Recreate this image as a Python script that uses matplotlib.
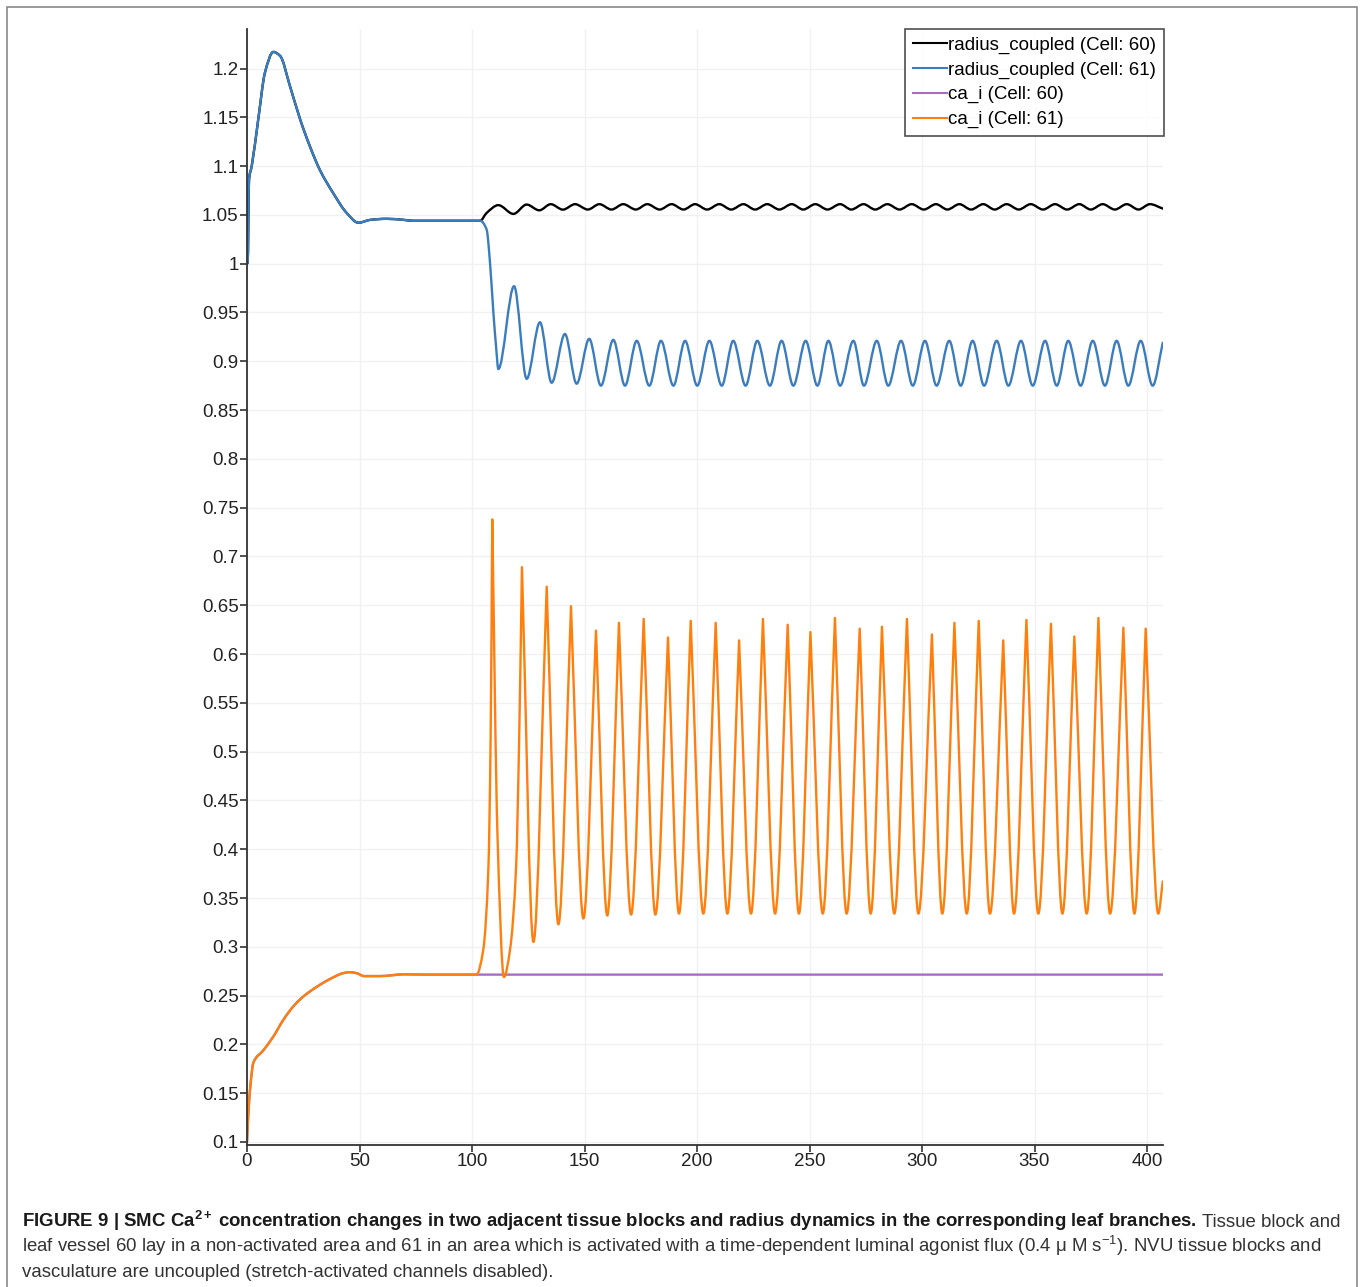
import numpy as np
import matplotlib
matplotlib.use("Agg")
import matplotlib.pyplot as plt
from matplotlib.path import Path
from matplotlib.patches import PathPatch, Rectangle
from matplotlib.lines import Line2D
from matplotlib import font_manager

# ---------------- data ----------------
x_ticks = [0, 50, 100, 150, 200, 250, 300, 350, 400]
y_tick_labels = ["0.1", "0.15", "0.2", "0.25", "0.3", "0.35", "0.4", "0.45", "0.5",
                 "0.55", "0.6", "0.65", "0.7", "0.75", "0.8", "0.85", "0.9", "0.95",
                 "1", "1.05", "1.1", "1.15", "1.2"]

series_labels = ["radius_coupled (Cell: 60)", "radius_coupled (Cell: 61)",
                 "ca_i (Cell: 60)", "ca_i (Cell: 61)"]
series_colors = ["#000000", "#3a7cc0", "#a86cc4", "#ff7f0e"]

# common radius transient (both cells identical until ~104 s)
radius_start_t = [0, 0.3, 0.9, 2.1, 5.0, 8.0, 11.7, 14.7, 19.1, 23.6, 28.0, 32.4,
                  38.4, 44.3, 49.5, 55.0, 62.0, 69.3, 74.0, 103.6]
radius_start_v = [1.0, 1.001, 1.086, 1.100, 1.148, 1.196, 1.217, 1.213, 1.182, 1.148,
                  1.120, 1.096, 1.072, 1.052, 1.042, 1.045, 1.046, 1.045, 1.044, 1.044]

# radius cell 60 (black) after activation
radius60_t = [106.5, 111.7, 118.4, 124.3, 129.9, 135.0, 140.4, 145.8, 151.5, 156.6,
              162.0, 167.2, 172.8, 177.9, 183.4, 188.7, 194.0, 199.1, 204.5, 209.9,
              215.2, 220.6, 225.8, 231.2, 236.6, 242.1, 247.2, 252.6, 258.0, 263.6,
              268.6, 274.0, 279.2, 284.6, 290.0, 295.4, 300.8, 306.2, 311.3, 316.6,
              321.8, 327.2, 332.3, 337.6, 343.0, 348.3, 353.8, 359.1, 364.5, 369.9,
              375.0, 380.3, 385.7, 391.0, 396.2, 401.3, 407.0]
radius60_v = [1.052, 1.060, 1.051, 1.0606, 1.0547, 1.061, 1.0554, 1.061, 1.0555, 1.061,
              1.0555, 1.061, 1.0555, 1.061, 1.0555, 1.061, 1.0555, 1.061, 1.0555, 1.061,
              1.0555, 1.061, 1.0555, 1.061, 1.0555, 1.061, 1.0555, 1.061, 1.0555, 1.061,
              1.0555, 1.061, 1.0555, 1.061, 1.0555, 1.061, 1.0555, 1.061, 1.0555, 1.061,
              1.0555, 1.061, 1.0555, 1.061, 1.0555, 1.061, 1.0555, 1.061, 1.0555, 1.061,
              1.0555, 1.061, 1.0555, 1.061, 1.0555, 1.061, 1.0565]

# radius cell 61 (blue) after activation
radius61_t = [106.5, 108.0, 109.5, 110.7, 111.7, 118.7, 124.3, 130.2, 135.4, 141.3,
              146.5, 152.1, 157.3, 162.8, 168.0, 173.2, 178.8, 184.0, 189.5, 194.7,
              200.1, 205.5, 211.0, 216.1, 221.6, 226.8, 232.4, 237.6, 242.8, 248.3,
              253.5, 258.4, 263.6, 269.5, 274.2, 279.9, 285.0, 290.7, 295.9, 301.3,
              306.5, 312.1, 317.2, 322.5, 327.6, 333.2, 338.4, 344.0, 349.2, 354.7,
              359.9, 365.0, 370.5, 375.9, 381.3, 386.5, 391.7, 397.2, 402.5, 407.0]
radius61_v = [1.035, 1.001, 0.950, 0.915, 0.892, 0.977, 0.882, 0.940, 0.878, 0.928,
              0.877, 0.923, 0.875, 0.922, 0.875, 0.921, 0.875, 0.921, 0.875, 0.921,
              0.875, 0.921, 0.875, 0.921, 0.875, 0.921, 0.875, 0.921, 0.875, 0.921,
              0.875, 0.921, 0.875, 0.921, 0.875, 0.921, 0.875, 0.921, 0.875, 0.921,
              0.875, 0.921, 0.875, 0.921, 0.875, 0.921, 0.875, 0.921, 0.875, 0.921,
              0.875, 0.921, 0.875, 0.921, 0.875, 0.921, 0.875, 0.921, 0.875, 0.919]

# common Ca transient (both cells identical until ~102 s)
ca_start_t = [0, 0.6, 1.6, 2.8, 7.3, 11.7, 16.1, 20.6, 25.0, 31.0, 36.9, 42.8, 45.5,
              48.7, 52.0, 59.0, 69.5, 81.0, 102.0]
ca_start_v = [0.100, 0.129, 0.160, 0.181, 0.194, 0.208, 0.225, 0.239, 0.249, 0.259,
              0.267, 0.273, 0.274, 0.273, 0.270, 0.270, 0.2718, 0.2715, 0.2715]

# ca_i cell 60 (purple) stays flat
ca60_t = [407.0]
ca60_v = [0.2715]

# ca_i cell 61 (orange): rise, peaks and troughs
ca61_t = [105.0, 107.3, 108.3, 109.0, 111.3, 114.2, 116.9, 119.6, 121.0, 122.2,
          127.3, 133.2, 138.4, 144.0, 149.5, 155.1, 160.1, 165.3, 170.7, 176.3,
          181.5, 187.1, 192.0, 197.2, 202.8, 208.3, 213.5, 218.7, 224.0, 229.3,
          234.7, 240.3, 245.3, 250.4, 255.9, 261.3, 266.5, 272.3, 277.2, 282.2,
          287.7, 293.3, 298.4, 304.4, 309.0, 314.4, 319.9, 325.2, 330.2, 336.1,
          340.9, 346.4, 351.7, 357.3, 362.4, 367.7, 373.2, 378.4, 383.6, 389.5,
          394.4, 399.4, 405.0, 407.0]
ca61_v = [0.297, 0.382, 0.519, 0.738, 0.416, 0.269, 0.297, 0.382, 0.519, 0.689,
          0.305, 0.669, 0.323, 0.649, 0.329, 0.624, 0.332, 0.632, 0.333, 0.636,
          0.333, 0.617, 0.334, 0.634, 0.334, 0.632, 0.334, 0.614, 0.334, 0.636,
          0.334, 0.630, 0.334, 0.6225, 0.334, 0.637, 0.334, 0.626, 0.334, 0.628,
          0.334, 0.636, 0.334, 0.620, 0.334, 0.632, 0.334, 0.634, 0.334, 0.614,
          0.334, 0.635, 0.334, 0.631, 0.334, 0.618, 0.334, 0.637, 0.334, 0.627,
          0.334, 0.626, 0.334, 0.367]

caption_bold = "FIGURE 9 | SMC Ca$^{\\mathbf{2+}}\\;$concentration changes in two adjacent tissue blocks and radius dynamics in the corresponding leaf branches."
caption_rest1 = "Tissue block and"
caption_line2 = "leaf vessel 60 lay in a non-activated area and 61 in an area which is activated with a time-dependent luminal agonist flux (0.4 \u03bc M s$^{-1}$). NVU tissue blocks and"
caption_line3 = "vasculature are uncoupled (stretch-activated channels disabled)."


# ---------------- helpers ----------------
def smooth_path(t, v, cusp_peaks=False):
    """Piecewise cubic Bezier path through the given points (monotone tangents)."""
    t = np.asarray(t, float)
    v = np.asarray(v, float)
    n = len(t)
    h = np.diff(t)
    d = np.diff(v) / h
    mL = np.zeros(n)
    mR = np.zeros(n)
    mL[0] = mR[0] = d[0]
    mL[-1] = mR[-1] = d[-1]
    for i in range(1, n - 1):
        a, b = d[i - 1], d[i]
        if a * b <= 0:
            if cusp_peaks and a > 0 and b < 0:
                mL[i], mR[i] = a, b
            else:
                mL[i] = mR[i] = 0.0
        else:
            w1 = 2 * h[i] + h[i - 1]
            w2 = h[i] + 2 * h[i - 1]
            m = (w1 + w2) / (w1 / a + w2 / b)
            mL[i] = mR[i] = m
    verts = [(t[0], v[0])]
    codes = [Path.MOVETO]
    for i in range(n - 1):
        hh = h[i] / 3.0
        verts += [(t[i] + hh, v[i] + mR[i] * hh),
                  (t[i + 1] - hh, v[i + 1] - mL[i + 1] * hh),
                  (t[i + 1], v[i + 1])]
        codes += [Path.CURVE4] * 3
    return Path(verts, codes)


def font_available(name):
    return any(f.name == name for f in font_manager.fontManager.ttflist)


tick_font = "Liberation Sans"
cap_font = "Liberation Sans Narrow" if font_available("Liberation Sans Narrow") else "Liberation Sans"

plt.rcParams["font.family"] = [tick_font, "DejaVu Sans"]
plt.rcParams["mathtext.fontset"] = "custom"
plt.rcParams["mathtext.rm"] = cap_font
plt.rcParams["mathtext.it"] = cap_font + ":italic"
plt.rcParams["mathtext.bf"] = cap_font + ":bold"

# ---------------- figure ----------------
W, H = 1360, 1287
fig = plt.figure(figsize=(W / 100, H / 100), dpi=100)
fig.patch.set_facecolor("white")

ax_l, ax_r, ax_t, ax_b = 247, 1163, 29, 1145
ax = fig.add_axes([ax_l / W, 1 - ax_b / H, (ax_r - ax_l) / W, (ax_b - ax_t) / H])
ax.set_xlim(0, 407.1)
ax.set_ylim(0.0969, 1.2405)

y_ticks = [float(s) for s in y_tick_labels]
ax.set_xticks(x_ticks)
ax.set_xticklabels([str(x) for x in x_ticks])
ax.set_yticks(y_ticks)
ax.set_yticklabels(y_tick_labels)
ax.grid(True, color="#f1f1f1", linewidth=1.0)
ax.set_axisbelow(True)
for s in ("top", "right"):
    ax.spines[s].set_visible(False)
for s in ("left", "bottom"):
    ax.spines[s].set_color("#333333")
    ax.spines[s].set_linewidth(1.3)
ax.tick_params(axis="both", direction="out", length=5, width=1.2, color="#333333",
               labelsize=13.5, labelcolor="#222222", pad=1)

lw = 1.7
series = [
    (radius_start_t + radius60_t, radius_start_v + radius60_v, False),
    (radius_start_t + radius61_t, radius_start_v + radius61_v, False),
    (ca_start_t + ca60_t, ca_start_v + ca60_v, False),
    (ca_start_t + ca61_t, ca_start_v + ca61_v, True),
]
handles = []
for (tt, vv, cusp), col, lab in zip(series, series_colors, series_labels):
    p = smooth_path(tt, vv, cusp_peaks=cusp)
    ax.add_patch(PathPatch(p, facecolor="none", edgecolor=col, linewidth=lw,
                           transform=ax.transData, joinstyle="round", capstyle="round"))
    handles.append(Line2D([], [], color=col, linewidth=1.5, label=lab))

leg = ax.legend(handles=handles, loc="upper right", bbox_to_anchor=(1.001, 1.0),
                borderaxespad=0, frameon=True, fancybox=False, fontsize=13.5,
                handlelength=1.8, handletextpad=0.1, labelspacing=0.4,
                borderpad=0.4)
leg.get_frame().set_edgecolor("#222222")
leg.get_frame().set_linewidth(1.2)

# figure border
fig.add_artist(Rectangle((7 / W, -0.01), (1357 - 7) / W, 1 - 7 / H + 0.01,
                         transform=fig.transFigure, fill=False,
                         edgecolor="#8a8a8a", linewidth=1.2))

# caption
cap_size = 13.4
cap_x = 22 / W
t1 = fig.text(cap_x, 1 - 1227 / H, caption_bold, fontsize=cap_size, fontweight="bold",
              family=cap_font, color="#1a1a1a", va="baseline")
fig.canvas.draw()
r = fig.canvas.get_renderer()
bb = t1.get_window_extent(renderer=r)
fig.text((bb.x1 + 5) / W, 1 - 1227 / H, caption_rest1, fontsize=cap_size,
         family=cap_font, color="#333333", va="baseline")
fig.text(cap_x, 1 - 1252 / H, caption_line2, fontsize=cap_size, family=cap_font,
         color="#333333", va="baseline")
fig.text(cap_x, 1 - 1277 / H, caption_line3, fontsize=cap_size, family=cap_font,
         color="#333333", va="baseline")

fig.savefig("out.png", dpi=100, facecolor="white")
